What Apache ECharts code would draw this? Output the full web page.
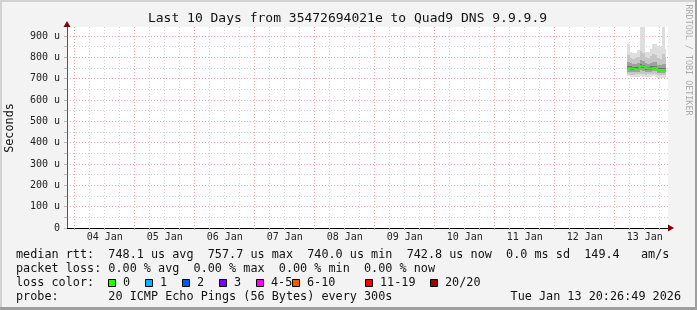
<!DOCTYPE html>
<html>
<head>
<meta charset="utf-8">
<script src="https://cdn.jsdelivr.net/npm/echarts@6/dist/echarts.min.js"></script>
<style>
html,body{margin:0;padding:0;background:#f3f3f3;}
#wrap{position:relative;width:697px;height:310px;}
#chart{position:absolute;left:0;top:0;width:697px;height:310px;}
.b{position:absolute;pointer-events:none;}
</style>
</head>
<body>
<div id="wrap">
<div id="chart"></div>
<div class="b" style="left:0;top:0;width:697px;height:2px;background:#d2d2d2"></div>
<div class="b" style="left:0;top:0;width:2px;height:310px;background:#d2d2d2"></div>
<div class="b" style="right:0;top:0;width:2px;height:310px;background:#9f9f9f"></div>
<div class="b" style="left:0;bottom:0;width:697px;height:3px;background:#9f9f9f"></div>
</div>
<script>
// ---- data (hours measured from 04 Jan 00:00) ----
const dayLabels = ['04 Jan','05 Jan','06 Jan','07 Jan','08 Jan','09 Jan','10 Jan','11 Jan','12 Jan','13 Jan'];
const yTickValues = [0,100,200,300,400,500,600,700,800,900];
const yTickLabels = ['0','100 u','200 u','300 u','400 u','500 u','600 u','700 u','800 u','900 u'];
const startHour = -3.08;
const endHour = 236.45;
const axisEndHour = 237.32;
const yMax = 942;

const times  = [221,222,223,224,225,226,227,228,229,230,231,232,233,234,235,236];
const lo     = [712,708,706,708,710,712,710,706,708,709,711,710,704,703,705,706];
const p10    = [722,719,718,720,721,724,723,719,720,720,722,723,716,715,716,717];
const p25    = [733,731,729,730,731,740,738,731,731,731,734,735,727,726,727,729];
const p40    = [743,741,739,739,740,751,749,741,741,742,745,746,735,734,735,737];
const median = [749,748,745,744,745,757.7,756,747,747,748,751,751,741,740,740,742.8];
const p60    = [758,757,753,753,754,767,765,756,756,757,760,761,750,749,750,752];
const p75    = [776,772,768,770,774,788,782,771,770,772,778,780,765,764,770,768];
const p90    = [810,798,792,795,802,830,820,800,798,805,815,812,795,792,815,800];
const hi     = [862,826,818,818,835,985,985,826,826,840,862,862,855,850,985,840];

const rttStats = [748.1, 757.7, 740.0, 742.8];
const rttSd = 0.0;
const amPerS = 149.4;
const lossStats = [0.00, 0.00, 0.00, 0.00];
const lossLabels = ['0','1','2','3','4-5','6-10','11-19','20/20'];
const lossColors = ['#26ff00','#00b8ff','#0059ff','#7e00ff','#ff00ff','#ff5500','#ff0000','#a10000'];
const titleText = 'Last 10 Days from 35472694021e to Quad9 DNS 9.9.9.9';
const probeText = '20 ICMP Echo Pings (56 Bytes) every 300s';
const stampText = 'Tue Jan 13 20:26:49 2026';

// ---- build ----
const MONO = '"DejaVu Sans Mono", monospace';
const levels = [lo,p10,p25,p40,median,p60,p75,p90,hi];
const bandColors = ['#dedede','#c6c6c6','#a0a0a0','#707070','#707070','#a0a0a0','#c6c6c6','#dedede'];
const tEnds = times.slice(1).concat([endHour]);

const smokeData = [];
times.forEach((t,i)=>{
  for (let b=0;b<8;b++) smokeData.push([t, tEnds[i], levels[b][i], levels[b+1][i], b]);
});

function renderSmoke(params, api){
  const a = api.coord([api.value(0), api.value(3)]);
  const c = api.coord([api.value(1), api.value(2)]);
  const x0 = Math.round(a[0]), x1 = Math.round(c[0]);
  const y0 = Math.round(a[1]), y1 = Math.round(c[1]);
  const cs = params.coordSys;
  const shape = echarts.graphic.clipRectByRect(
    {x:x0, y:y0, width:x1-x0, height:y1-y0},
    {x:cs.x, y:cs.y, width:cs.width, height:cs.height});
  if (!shape) return null;
  return {type:'rect', shape:shape, style:{fill:bandColors[api.value(4)]}};
}

const medianLine = times.map((t,i)=>[t, median[i]]).concat([[endHour, median[median.length-1]]]);

const series = [
  {type:'custom', renderItem:renderSmoke, data:smokeData, encode:{x:[0,1], y:[2,3]}, silent:true, z:2, clip:true},
  {type:'line', step:'end', symbol:'none', silent:true, lineStyle:{width:2, color:lossColors[0]}, data:medianLine, z:5}
];

const gridHours = [];
for (let h=0; h<dayLabels.length*24; h+=6) gridHours.push(h);
const labelHours = dayLabels.map((d,i)=>i*24+12);
const yGrid = [];
for (let v=0; v<=900; v+=50) yGrid.push(v);

function pad(s,n){ while(s.length<n) s+=' '; return s; }
const line1 = 'median rtt:  ' + rttStats[0].toFixed(1)+' us avg  ' + rttStats[1].toFixed(1)+' us max  ' +
  rttStats[2].toFixed(1)+' us min  ' + rttStats[3].toFixed(1)+' us now  ' + rttSd.toFixed(1)+' ms sd  ' +
  amPerS.toFixed(1)+'   am/s';
const line2 = 'packet loss: ' + lossStats[0].toFixed(2)+' % avg  ' + lossStats[1].toFixed(2)+' % max  ' +
  lossStats[2].toFixed(2)+' % min  ' + lossStats[3].toFixed(2)+' % now';
const line4 = pad('probe:',13) + probeText;

const LFONT = '11.8px ' + MONO;
const graphics = [
  {type:'text', x:347.5, y:19, style:{text:titleText, font:'13px '+MONO, fill:'#111', align:'center', verticalAlign:'middle'}},
  {type:'text', x:688, y:60, rotation:-Math.PI/2, style:{text:'RRDTOOL / TOBI OETIKER', font:'8.4px '+MONO, fill:'#ababab', align:'center', verticalAlign:'middle'}},
  {type:'text', x:10, y:128, rotation:Math.PI/2, style:{text:'Seconds', font:LFONT, fill:'#111', align:'center', verticalAlign:'middle'}},
  {type:'text', x:16, y:254.5, style:{text:line1, font:LFONT, fill:'#111', verticalAlign:'middle'}},
  {type:'text', x:16, y:268.5, style:{text:line2, font:LFONT, fill:'#111', verticalAlign:'middle'}},
  {type:'text', x:16, y:282.5, style:{text:'loss color:', font:LFONT, fill:'#111', verticalAlign:'middle'}},
  {type:'text', x:16, y:296.5, style:{text:line4, font:LFONT, fill:'#111', verticalAlign:'middle'}},
  {type:'text', x:681, y:296.5, style:{text:stampText, font:LFONT, fill:'#111', align:'right', verticalAlign:'middle'}}
];
const boxX = [108.5,145.5,182.5,219.5,256.5,292.5,365.5,430.5];
lossLabels.forEach((lab,i)=>{
  graphics.push({type:'rect', shape:{x:boxX[i], y:279.5, width:7, height:7}, style:{fill:lossColors[i], stroke:'#000', lineWidth:1}});
  graphics.push({type:'text', x:boxX[i]+14.5, y:282.5, style:{text:lab, font:LFONT, fill:'#111', verticalAlign:'middle'}});
});

const chart = echarts.init(document.getElementById('chart'), null, {renderer:'canvas'});
chart.setOption({
  animation:false,
  backgroundColor:'#f3f3f3',
  grid:{left:67, right:29, top:27, bottom:82, show:true, backgroundColor:'#ffffff', borderWidth:0, outerBoundsMode:'none'},
  xAxis:[{
    type:'value', min:startHour, max:axisEndHour,
    axisLine:{show:true, onZero:false, lineStyle:{color:'#000', width:1}},
    axisTick:{show:true, customValues:gridHours, length:2, lineStyle:{color:'#aaa'}},
    axisLabel:{customValues:labelHours, formatter:(v)=>dayLabels[Math.round((v-12)/24)], fontFamily:MONO, fontSize:10, color:'#222', margin:4},
    splitLine:{show:true, lineStyle:{color:['#f5a3a3','#d2d2d2','#d2d2d2','#d2d2d2'], type:[1,2], width:1}}
  },{
    type:'value', min:startHour, max:axisEndHour, position:'bottom',
    axisLine:{show:true, onZero:false, symbol:['none','triangle'], symbolSize:[7,6], symbolOffset:[0,3], lineStyle:{color:'#7f0000', width:0}},
    axisTick:{show:false}, axisLabel:{show:false}, splitLine:{show:false}
  }],
  yAxis:[{
    type:'value', min:0, max:yMax,
    axisLine:{show:true, onZero:false, lineStyle:{color:'#555', width:1}},
    axisTick:{show:true, customValues:yGrid, length:3, lineStyle:{color:'#bbb'}},
    axisLabel:{customValues:yTickValues, formatter:(v)=>yTickLabels[yTickValues.indexOf(Math.round(v))], fontFamily:MONO, fontSize:10, color:'#222', margin:7},
    splitLine:{show:true, lineStyle:{color:['#f5a3a3','#d2d2d2'], type:[1,2], width:1}}
  },{
    type:'value', min:0, max:yMax, position:'left',
    axisLine:{show:true, onZero:false, symbol:['none','triangle'], symbolSize:[7,6], symbolOffset:[0,3], lineStyle:{color:'#7f0000', width:0}},
    axisTick:{show:false}, axisLabel:{show:false}, splitLine:{show:false}
  }],
  series: series,
  graphic: graphics
});
</script>
</body>
</html>
